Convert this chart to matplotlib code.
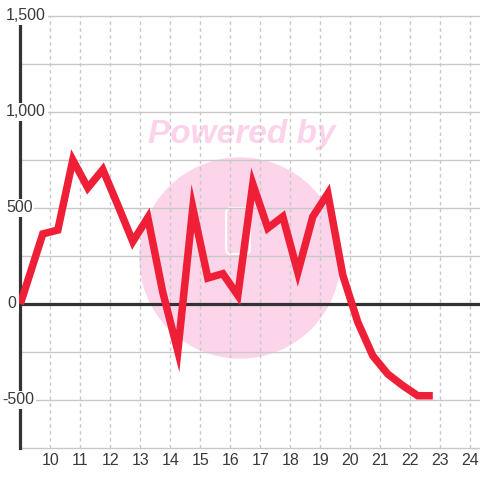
import matplotlib
matplotlib.use("Agg")
import matplotlib.pyplot as plt
from matplotlib.patches import Circle, FancyBboxPatch

plt.rcParams["font.family"] = ["Liberation Sans", "DejaVu Sans"]

# data
x_vals = [9, 9.75, 10.25, 10.75, 11.25, 11.75, 12.25, 12.75, 13.25, 13.75,
          14.25, 14.75, 15.25, 15.75, 16.25, 16.75, 17.25, 17.75, 18.25, 18.75,
          19.25, 19.75, 20.25, 20.75, 21.25, 21.75, 22.25, 22.75]
y_vals = [0, 365, 385, 750, 605, 700, 515, 325, 450, 60,
          -245, 500, 135, 158, 45, 625, 395, 455, 165, 455,
          575, 150, -95, -270, -365, -425, -478, -478]
x_ticks = list(range(10, 25))
y_ticks = [1500, 1000, 500, 0, -500]
y_labels = ["1,500", "1,000", "500", "0", "-500"]
y_grid = [1500, 1250, 1000, 750, 500, 250, -250, -500, -750]

fig = plt.figure(figsize=(4.8, 4.8), dpi=100)
ax = fig.add_axes([0, 0, 1, 1])
ax.set_xlim(8.323, 24.323)
ax.set_ylim(-916.7, 1583.3)
ax.axis("off")

x0, x1 = 9, 24.323
gray = "#c8c8c8"

# watermark
wm = Circle((240 / 480, 1 - 258 / 480), 100 / 480, transform=ax.transAxes,
            color="#fcd5ea", zorder=0)
ax.add_patch(wm)
ax.add_patch(FancyBboxPatch((228 / 480, 1 - 252 / 480), 20 / 480, 42 / 480,
                            boxstyle="round,pad=0.004,rounding_size=0.01",
                            transform=ax.transAxes, fill=False, ec="white",
                            lw=1.5, zorder=0.5))
ax.text(242 / 480, 1 - 134 / 480, "Powered by", transform=ax.transAxes,
        ha="center", va="center", fontsize=24, fontweight="bold",
        fontstyle="italic", color="#fcd3ea", zorder=0.5)

# grid
for g in y_grid:
    ax.plot([x0, x1], [g, g], color=gray, lw=1, zorder=1)
for t in x_ticks:
    ax.plot([t, t], [-750, 1500], color=gray, lw=1, ls=(0, (2.5, 2.5)), zorder=1)

# axes lines
ax.plot([x0, x1], [0, 0], color="#333333", lw=2.3, zorder=2)
ax.plot([x0, x0], [-750, 1500], color="#333333", lw=2.3, zorder=2)

# series
ax.plot(x_vals, y_vals, color="#ee1f36", lw=5.4, solid_joinstyle="miter",
        solid_capstyle="butt", zorder=3)

# tick labels
for t in x_ticks:
    ax.text(t, -817, str(t), ha="center", va="center", fontsize=11.5,
            color="#3a3a3a", zorder=4)
for v, lab in zip(y_ticks, y_labels):
    if lab.startswith("-"):
        lx = 8.40
    elif lab == "0":
        lx = 8.58
    else:
        lx = 8.52
    ax.text(lx, v, lab, ha="left", va="center", fontsize=11.5,
            color="#3a3a3a", zorder=4,
            bbox=dict(boxstyle="square,pad=0.12", fc="white", ec="none"))

fig.savefig("out.png", dpi=100, facecolor="white")
